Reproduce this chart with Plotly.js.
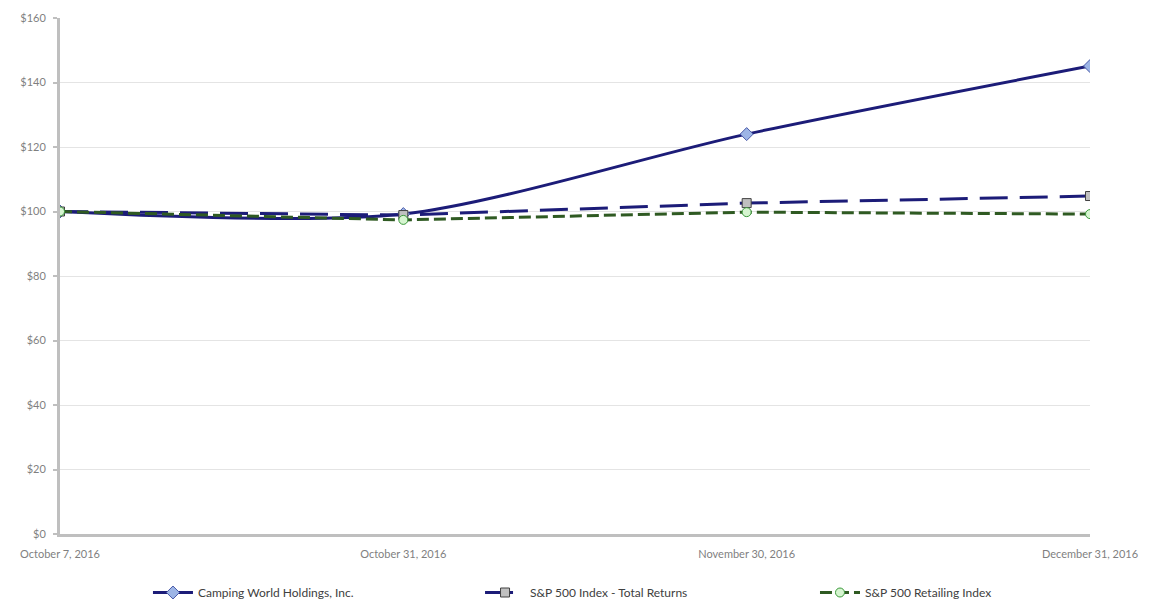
<!DOCTYPE html>
<html>
<head>
<meta charset="utf-8">
<script src="https://cdn.plot.ly/plotly-3.0.1.min.js"></script>
<style>html,body{margin:0;padding:0;background:#fff;}#chart{width:1153px;height:607px;}</style>
</head>
<body>
<div id="chart"></div>
<script>
const dates = ["October 7, 2016", "October 31, 2016", "November 30, 2016", "December 31, 2016"];
const campingWorld = [100, 99.2, 124.0, 145.1];
const sp500Total = [100, 98.9, 102.6, 104.8];
const sp500Retail = [100, 97.4, 99.8, 99.2];
const yTicks = [0, 20, 40, 60, 80, 100, 120, 140, 160];
const yTickText = yTicks.map(v => "$" + v);

const traces = [
  {
    x: dates, y: campingWorld, name: "Camping World Holdings, Inc.",
    mode: "lines+markers", type: "scatter", legend: "legend",
    line: {color: "#1c1c78", width: 3, shape: "spline", smoothing: 0.8},
    marker: {symbol: "diamond", size: 10, color: "#9db5e6", line: {color: "#4a5aa8", width: 1}}
  },
  {
    x: dates, y: sp500Total, name: "S&P 500 Index - Total Returns",
    mode: "lines+markers", type: "scatter", legend: "legend2",
    line: {color: "#1c1c78", width: 3, dash: "28px,12px"},
    marker: {symbol: "square", size: 9, color: "#c0c0c0", line: {color: "#404040", width: 1}}
  },
  {
    x: dates, y: sp500Retail, name: "S&P 500 Retailing Index",
    mode: "lines+markers", type: "scatter", legend: "legend3",
    line: {color: "#2f5a22", width: 3, dash: "12px,5px"},
    marker: {symbol: "circle", size: 9, color: "#d6f5d0", line: {color: "#3c9a3c", width: 1}}
  }
];

function leg(x) {
  return {orientation: "h", x: x, xanchor: "left", xref: "paper",
          yref: "container", y: 0.0, yanchor: "bottom",
          font: {size: 12, color: "#404040"}, itemwidth: 40, bgcolor: "rgba(0,0,0,0)"};
}

const layout = {
  width: 1153, height: 607,
  margin: {l: 60, r: 63, t: 18, b: 73},
  paper_bgcolor: "#ffffff", plot_bgcolor: "#ffffff",
  font: {family: "Lato, 'Open Sans', sans-serif", size: 11, color: "#7f7f7f"},
  showlegend: true,
  legend: leg(0.0854),
  legend2: leg(0.4078),
  legend3: leg(0.733),
  xaxis: {
    type: "category", range: [0, 3], showgrid: false,
    showline: true, linecolor: "#bfbfbf", linewidth: 3,
    ticks: "", tickfont: {size: 11, color: "#7f7f7f"}, zeroline: false,
    fixedrange: true, automargin: false, ticklabelstandoff: 8
  },
  yaxis: {
    range: [0, 160], tickvals: yTicks, ticktext: yTickText,
    showgrid: true, gridcolor: "#e4e4e4", gridwidth: 1,
    showline: true, linecolor: "#bfbfbf", linewidth: 3,
    ticks: "outside", ticklen: 4, tickcolor: "#bfbfbf", tickwidth: 2,
    tickfont: {size: 11, color: "#7f7f7f"}, zeroline: false, automargin: false,
    ticklabelstandoff: 5
  }
};

Plotly.newPlot("chart", traces, layout, {displayModeBar: false, staticPlot: true});
</script>
</body>
</html>
